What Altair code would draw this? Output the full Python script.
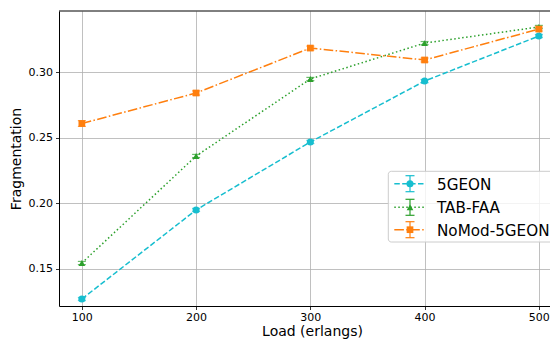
import altair as alt
import pandas as pd

loads = [100, 200, 300, 400, 500]
series = ["5GEON", "TAB-FAA", "NoMod-5GEON"]
geon = [0.1267, 0.1947, 0.2466, 0.2931, 0.3275]
tabfaa = [0.1542, 0.2359, 0.2947, 0.3221, 0.3344]
nomod = [0.2607, 0.2840, 0.3183, 0.3092, 0.3328]
geon_err = [0.0012, 0.0012, 0.0012, 0.0012, 0.0012]
tabfaa_err = [0.0012, 0.0012, 0.0012, 0.0012, 0.0012]
nomod_err = [0.0022, 0.0016, 0.0015, 0.0015, 0.0015]

colors = ["#17becf", "#2ca02c", "#ff7f0e"]
shapes = ["circle", "triangle-up", "square"]
sizes = [50, 45, 45]
dashes = [[5.5, 2.4], [1.5, 2.5], [9.6, 2.4, 1.5, 2.4]]

rows = []
for name, vals, errs in [(series[0], geon, geon_err), (series[1], tabfaa, tabfaa_err), (series[2], nomod, nomod_err)]:
    for x, v, e in zip(loads, vals, errs):
        rows.append({"load": x, "value": v, "lo": v - e, "hi": v + e, "series": name})
df = pd.DataFrame(rows)

W, H = 491, 295
FONT = "DejaVu Sans"

xs = alt.Scale(domain=[80, 80 + W / 1.1425], nice=False, zero=False)
ys = alt.Scale(domain=[0.12137, 0.3466], nice=False, zero=False)

base = alt.Chart(df)
X = alt.X("load:Q", scale=xs,
          axis=alt.Axis(values=loads, format="d", title="Load (erlangs)", titleX=253,
                        labelPadding=1.5, titlePadding=2))
Y = alt.Y("value:Q", scale=ys,
          axis=alt.Axis(values=[0.15, 0.20, 0.25, 0.30], format=".2f", title="Fragmentation",
                        labelPadding=3, titlePadding=5))

layers = []
for i, name in enumerate(series):
    sub = base.transform_filter(alt.datum.series == name)
    layers.append(sub.mark_line(strokeWidth=1.5, strokeDash=dashes[i], color=colors[i]).encode(x=X, y=Y))
    layers.append(sub.mark_rule(strokeWidth=1.2, color=colors[i]).encode(
        x="load:Q", y=alt.Y("lo:Q", scale=ys), y2="hi:Q"))
    for f in ["lo", "hi"]:
        layers.append(sub.mark_tick(orient="horizontal", size=8, thickness=1.2, color=colors[i]).encode(
            x="load:Q", y=alt.Y(f + ":Q", scale=ys)))
    layers.append(sub.mark_point(shape=shapes[i], filled=True, size=sizes[i], opacity=1, color=colors[i]).encode(
        x="load:Q", y="value:Q"))

# top spine
spine = pd.DataFrame({"s": [0]})
layers.append(alt.Chart(spine).mark_rule(color="black", strokeWidth=1).encode(
    x=alt.value(0), x2=alt.value(W), y=alt.value(0)))

# legend
leg_rows = [172.7, 196.3, 218.7]
leg_df = pd.DataFrame({"series": series})
layers.append(alt.Chart(leg_df).transform_filter(alt.datum.series == series[0]).mark_rect(
    fill="white", fillOpacity=0.8, stroke="#cccccc", strokeWidth=1, cornerRadius=3).encode(
    x=alt.value(329.3), x2=alt.value(515), y=alt.value(160.3), y2=alt.value(231)))
for i, name in enumerate(series):
    yy = leg_rows[i]
    one = alt.Chart(leg_df).transform_filter(alt.datum.series == name)
    layers.append(one.mark_rule(strokeWidth=1.5, strokeDash=dashes[i], color=colors[i]).encode(
        x=alt.value(335.3), x2=alt.value(366.7), y=alt.value(yy)))
    layers.append(one.mark_rule(strokeWidth=1.2, color=colors[i]).encode(
        x=alt.value(351), y=alt.value(yy - 8), y2=alt.value(yy + 8)))
    for d in (-8, 8):
        layers.append(one.mark_rule(strokeWidth=1.2, color=colors[i]).encode(
            x=alt.value(346.5), x2=alt.value(355.5), y=alt.value(yy + d)))
    layers.append(one.mark_point(shape=shapes[i], filled=True, size=sizes[i], opacity=1, color=colors[i]).encode(
        x=alt.value(351), y=alt.value(yy)))
    layers.append(one.mark_text(align="left", baseline="middle", fontSize=15.2, font=FONT, color="black").encode(
        x=alt.value(378), y=alt.value(yy + 1), text="series:N"))

chart = alt.layer(*layers).properties(
    width=W, height=H,
    padding={"left": 51, "top": 3, "right": 0, "bottom": 35},
    autosize=alt.AutoSizeParams(type="none"),
).configure_view(stroke=None).configure_axis(
    labelFont=FONT, titleFont=FONT, labelFontSize=11, titleFontSize=14,
    titleFontWeight="normal", labelColor="black", titleColor="black",
    domainColor="black", domainWidth=1, tickColor="black", tickSize=3.5, tickWidth=0.8,
    grid=True, gridColor="#b0b0b0", gridWidth=0.8,
)

chart.save("out.html", embed_options={"renderer": "svg", "actions": False})
